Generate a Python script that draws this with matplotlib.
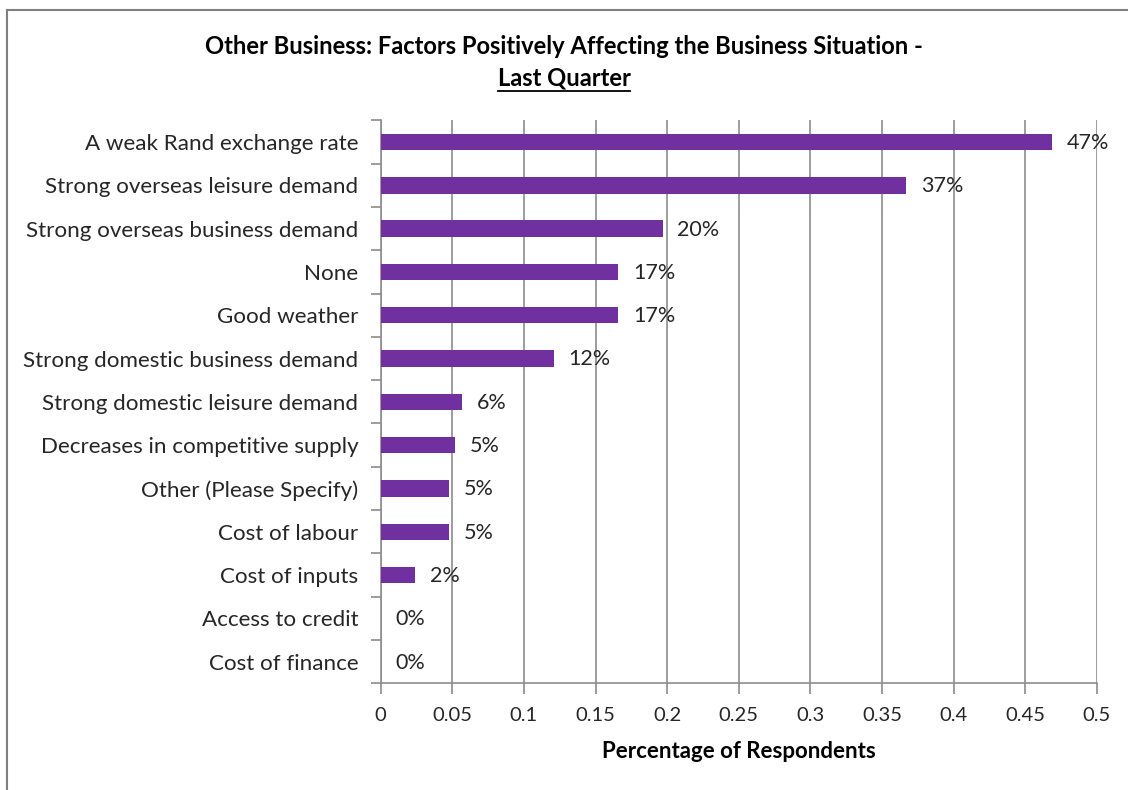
import matplotlib
matplotlib.use("Agg")
import matplotlib.pyplot as plt
from matplotlib.lines import Line2D
from matplotlib.ticker import FixedLocator

# Survey results: share of respondents naming each factor
FACTORS = [
    "A weak Rand exchange rate",
    "Strong overseas leisure demand",
    "Strong overseas business demand",
    "None",
    "Good weather",
    "Strong domestic business demand",
    "Strong domestic leisure demand",
    "Decreases in competitive supply",
    "Other (Please Specify)",
    "Cost of labour",
    "Cost of inputs",
    "Access to credit",
    "Cost of finance",
]
SHARES = [0.469, 0.367, 0.197, 0.166, 0.166, 0.121, 0.057, 0.052, 0.048, 0.048, 0.024, 0.0, 0.0]
XTICKS = [0, 0.05, 0.1, 0.15, 0.2, 0.25, 0.3, 0.35, 0.4, 0.45, 0.5]
XTICK_LABELS = ["0", "0.05", "0.1", "0.15", "0.2", "0.25", "0.3", "0.35", "0.4", "0.45", "0.5"]

TITLE = "Other Business: Factors Positively Affecting the Business Situation -"
SUBTITLE = "Last Quarter"
XLABEL = "Percentage of Respondents"

BAR_COLOR = "#7030A0"
GRID_COLOR = "#8c8c8c"
TEXT_COLOR = "#262626"

plt.rcParams["font.family"] = ["Lato", "DejaVu Sans"]

W, H = 1128, 790
fig = plt.figure(figsize=(W / 100, H / 100), dpi=100)
ax = fig.add_axes([380.7 / W, 1 - 683.3 / H, (1096.7 - 380.7) / W, (683.3 - 120.4) / H])

n = len(FACTORS)
ypos = list(range(n))
ax.barh(ypos, SHARES, height=0.38, color=BAR_COLOR, zorder=3)
ax.set_ylim(n - 0.5, -0.5)
ax.set_xlim(0, 0.5)

# value labels next to each bar
for y, v in zip(ypos, SHARES):
    ax.annotate(f"{v:.0%}", (v, y + 0.02), xytext=(10.5, 0), textcoords="offset points",
                va="center", ha="left", fontsize=15.5, color=TEXT_COLOR, zorder=4)

ax.set_yticks(ypos)
ax.set_yticklabels(FACTORS, fontsize=16.1, color=TEXT_COLOR)
ax.tick_params(axis="y", which="major", length=0, pad=16)
ax.yaxis.set_minor_locator(FixedLocator([i + 0.5 for i in range(-1, n)]))
ax.tick_params(axis="y", which="minor", length=7, color=GRID_COLOR, width=1.2)

ax.set_xticks(XTICKS)
ax.set_xticklabels(XTICK_LABELS, fontsize=14.5, color=TEXT_COLOR)
ax.tick_params(axis="x", length=8, color=GRID_COLOR, width=1.2, pad=9)
ax.xaxis.grid(True, color=GRID_COLOR, linewidth=1.2, zorder=0)
ax.set_axisbelow(True)

for side in ("top", "right"):
    ax.spines[side].set_visible(False)
for side in ("left", "bottom"):
    ax.spines[side].set_color(GRID_COLOR)
    ax.spines[side].set_linewidth(1.2)

ax.set_xlabel(XLABEL, fontsize=16, fontweight="bold", color="black", labelpad=12)

# title, second line underlined
fig.text(0.5, 1 - 47 / H, TITLE, ha="center", va="center", fontsize=17.1,
         fontweight="bold", color="black")
sub = fig.text(0.5, 1 - 78 / H, SUBTITLE, ha="center", va="center", fontsize=17.1,
               fontweight="bold", color="black")
renderer = fig.canvas.get_renderer()
bb = sub.get_window_extent(renderer)
uy = bb.y0 - 1
fig.add_artist(Line2D([bb.x0 / W, bb.x1 / W], [uy / H, uy / H], color="black",
                      linewidth=1.3, transform=fig.transFigure))

# outer frame (top and left edges)
fig.add_artist(Line2D([7 / W, 1], [1 - 10 / H, 1 - 10 / H], color="#808080",
                      linewidth=1.5, transform=fig.transFigure))
fig.add_artist(Line2D([7 / W, 7 / W], [0, 1 - 10 / H], color="#808080",
                      linewidth=1.5, transform=fig.transFigure))

fig.savefig("out.png", dpi=100)
